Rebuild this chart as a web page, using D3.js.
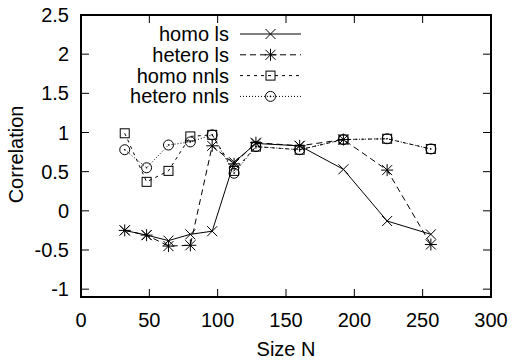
<!DOCTYPE html>
<html>
<head>
<meta charset="utf-8">
<script src="https://cdn.jsdelivr.net/npm/d3@7"></script>
<style>
  body { margin: 0; background: #fff; }
  svg text { font-family: "Liberation Sans", Arial, sans-serif; fill: #000; }
</style>
</head>
<body>
<div class="chart"></div>
<script>
(function () {
    // data
    const sizes = [32, 48, 64, 80, 96, 112, 128, 160, 192, 224, 256];
    const homoLs = [-0.25, -0.31, -0.38, -0.30, -0.26, 0.62, 0.86, 0.83, 0.53, -0.13, -0.30];
    const heteroLs = [-0.25, -0.31, -0.45, -0.44, 0.83, 0.60, 0.87, 0.83, 0.91, 0.52, -0.43];
    const homoNnls = [0.99, 0.37, 0.51, 0.95, 0.97, 0.51, 0.82, 0.78, 0.91, 0.92, 0.79];
    const heteroNnls = [0.78, 0.55, 0.84, 0.88, 0.97, 0.48, 0.82, 0.78, 0.91, 0.92, 0.79];
    const seriesNames = ['homo ls', 'hetero ls', 'homo nnls', 'hetero nnls'];
    const xTicks = [0, 50, 100, 150, 200, 250, 300];
    const yTicks = [-1, -0.5, 0, 0.5, 1, 1.5, 2, 2.5];

    const width = 513, height = 363;
    const margin = { top: 15, right: 22, bottom: 66, left: 81 };

    const series = [
        { name: seriesNames[0], values: homoLs, dash: null, marker: 'cross' },
        { name: seriesNames[1], values: heteroLs, dash: '6,4', marker: 'star' },
        { name: seriesNames[2], values: homoNnls, dash: '3,4', marker: 'square' },
        { name: seriesNames[3], values: heteroNnls, dash: '1,2', marker: 'circle' }
    ];

    const x = d3.scaleLinear().domain([0, 300]).range([margin.left, width - margin.right]);
    const y = d3.scaleLinear().domain([-1.1, 2.5]).range([height - margin.bottom, margin.top]);

    const svg = d3.select('.chart').append('svg')
        .attr('width', width)
        .attr('height', height);

    const tickLen = 8;
    const fontSize = 20;

    // ticks on all four sides, pointing inward
    let axes = svg.append('g').attr('stroke', '#000').attr('stroke-width', 1);
    xTicks.forEach(function (t) {
        axes.append('line').attr('x1', x(t)).attr('x2', x(t))
            .attr('y1', y.range()[0]).attr('y2', y.range()[0] - tickLen);
        axes.append('line').attr('x1', x(t)).attr('x2', x(t))
            .attr('y1', y.range()[1]).attr('y2', y.range()[1] + tickLen);
    });
    yTicks.forEach(function (t) {
        axes.append('line').attr('x1', x.range()[0]).attr('x2', x.range()[0] + tickLen)
            .attr('y1', y(t)).attr('y2', y(t));
        axes.append('line').attr('x1', x.range()[1]).attr('x2', x.range()[1] - tickLen)
            .attr('y1', y(t)).attr('y2', y(t));
    });

    svg.append('g').selectAll('text')
        .data(xTicks).join('text')
        .attr('x', d => x(d))
        .attr('y', y.range()[0] + 30)
        .attr('text-anchor', 'middle')
        .style('font-size', fontSize + 'px')
        .text(d => d);

    svg.append('g').selectAll('text')
        .data(yTicks).join('text')
        .attr('x', x.range()[0] - 12)
        .attr('y', d => y(d) + 7)
        .attr('text-anchor', 'end')
        .style('font-size', fontSize + 'px')
        .text(d => d);

    svg.append('text')
        .attr('x', (x.range()[0] + x.range()[1]) / 2)
        .attr('y', height - 7)
        .attr('text-anchor', 'middle')
        .style('font-size', fontSize + 'px')
        .text('Size N');

    svg.append('text')
        .attr('transform', `translate(23, ${y(0.72)}) rotate(-90)`)
        .attr('text-anchor', 'middle')
        .style('font-size', fontSize + 'px')
        .text('Correlation');

    function drawMarker(g, kind, cx, cy) {
        const s = 5;
        if (kind === 'cross' || kind === 'star') {
            g.append('path').attr('d', `M${cx - s},${cy - s}L${cx + s},${cy + s}M${cx - s},${cy + s}L${cx + s},${cy - s}`);
        }
        if (kind === 'star') {
            g.append('path').attr('d', `M${cx - s - 1},${cy}L${cx + s + 1},${cy}M${cx},${cy - s - 1}L${cx},${cy + s + 1}`);
        }
        if (kind === 'square') {
            g.append('rect').attr('x', cx - 4.5).attr('y', cy - 4.5).attr('width', 9).attr('height', 9).attr('fill', 'none');
        }
        if (kind === 'circle') {
            g.append('circle').attr('cx', cx).attr('cy', cy).attr('r', 5).attr('fill', 'none');
            g.append('circle').attr('cx', cx).attr('cy', cy).attr('r', 0.8).attr('fill', '#000').attr('stroke', 'none');
        }
    }

    const line = d3.line().x(d => x(d[0])).y(d => y(d[1]));

    // draw in reverse so homo ls ends on top
    series.slice().reverse().forEach(function (s) {
        const pts = sizes.map((n, i) => [n, s.values[i]]);
        let g = svg.append('g').attr('stroke', '#000').attr('stroke-width', 1).attr('fill', 'none');
        g.append('path').datum(pts).attr('d', line).attr('stroke-dasharray', s.dash);
        pts.forEach(p => drawMarker(g, s.marker, x(p[0]), y(p[1])));
    });

    // legend
    const legendTop = 34, legendStep = 20.8;
    series.forEach(function (s, i) {
        const ly = legendTop + i * legendStep;
        svg.append('text')
            .attr('x', 229)
            .attr('y', ly + 7)
            .attr('text-anchor', 'end')
            .style('font-size', fontSize + 'px')
            .text(s.name);
        let g = svg.append('g').attr('stroke', '#000').attr('stroke-width', 1).attr('fill', 'none');
        g.append('line').attr('x1', 240).attr('x2', 301).attr('y1', ly).attr('y2', ly)
            .attr('stroke-dasharray', s.dash);
        drawMarker(g, s.marker, 270.5, ly);
    });

    // frame
    svg.append('rect')
        .attr('x', x.range()[0]).attr('y', y.range()[1])
        .attr('width', x.range()[1] - x.range()[0])
        .attr('height', y.range()[0] - y.range()[1])
        .attr('fill', 'none').attr('stroke', '#000').attr('stroke-width', 2);
})();
</script>
</body>
</html>
